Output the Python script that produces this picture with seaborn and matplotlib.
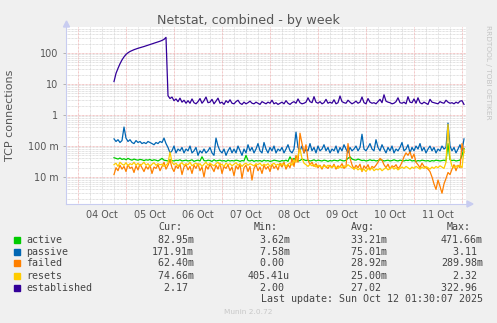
import numpy as np
import pandas as pd
import matplotlib
matplotlib.use("Agg")
import matplotlib.pyplot as plt
import matplotlib.dates as mdates
from matplotlib.patches import Rectangle
import seaborn as sns

# ---------------- data (hourly samples from 2025-10-04 18:00) ----------------
start_time = "2025-10-04 18:00"
series_names = ["active", "passive", "failed", "resets", "established"]
series_colors = ["#00CC00", "#0066B3", "#FF8000", "#FFCC00", "#330099"]

active = [
    0.042, 0.04, 0.038, 0.041, 0.037, 0.039, 0.036, 0.04, 0.037, 0.035, 0.038, 0.036,
    0.035, 0.037, 0.036, 0.034, 0.036, 0.035, 0.037, 0.034, 0.036, 0.035, 0.033, 0.036,
    0.04, 0.035, 0.034, 0.033, 0.036, 0.034, 0.033, 0.035, 0.034, 0.036, 0.033, 0.034,
    0.035, 0.033, 0.034, 0.036, 0.032, 0.034, 0.035, 0.033, 0.045, 0.034, 0.033, 0.035,
    0.034, 0.032, 0.036, 0.033, 0.034, 0.035, 0.033, 0.034, 0.032, 0.035, 0.033, 0.034,
    0.033, 0.035, 0.034, 0.032, 0.034, 0.033, 0.05, 0.034, 0.033, 0.035, 0.032, 0.034,
    0.033, 0.034, 0.032, 0.035, 0.033, 0.034, 0.032, 0.033, 0.035, 0.034, 0.033, 0.032,
    0.034, 0.033, 0.035, 0.032, 0.045, 0.034, 0.04, 0.035, 0.033, 0.034, 0.038, 0.036,
    0.034, 0.035, 0.033, 0.034, 0.036, 0.033, 0.035, 0.034, 0.033, 0.035, 0.034, 0.032,
    0.034, 0.033, 0.035, 0.034, 0.033, 0.036, 0.034, 0.033, 0.035, 0.04, 0.045, 0.038,
    0.036, 0.035, 0.038, 0.036, 0.034, 0.035, 0.033, 0.034, 0.036, 0.034, 0.035, 0.033,
    0.034, 0.036, 0.035, 0.033, 0.034, 0.035, 0.033, 0.034, 0.036, 0.034, 0.033, 0.035,
    0.034, 0.033, 0.035, 0.034, 0.036, 0.033, 0.034, 0.032, 0.034, 0.033, 0.035, 0.034,
    0.033, 0.034, 0.032, 0.034, 0.033, 0.035, 0.034, 0.033, 0.034, 0.035, 0.033, 0.12,
    0.036, 0.034, 0.035, 0.033, 0.034, 0.035, 0.05, 0.083,
]

passive = [
    0.17, 0.14, 0.16, 0.13, 0.15, 0.41, 0.18, 0.14, 0.16, 0.13, 0.12, 0.15,
    0.13, 0.14, 0.12, 0.13, 0.12, 0.14, 0.13, 0.12, 0.11, 0.13, 0.12, 0.14,
    0.13, 0.18, 0.12, 0.09, 0.06, 0.07, 0.1, 0.06, 0.08, 0.07, 0.09, 0.06,
    0.08, 0.07, 0.1, 0.06, 0.07, 0.09, 0.05, 0.07, 0.06, 0.08, 0.06, 0.07,
    0.09, 0.06, 0.05, 0.18, 0.1, 0.07, 0.06, 0.08, 0.05, 0.07, 0.09, 0.06,
    0.08, 0.06, 0.1, 0.07, 0.05, 0.08, 0.06, 0.11, 0.07, 0.09, 0.06, 0.08,
    0.12, 0.07, 0.06, 0.13, 0.08, 0.06, 0.09, 0.07, 0.1, 0.06, 0.08, 0.07,
    0.09, 0.06, 0.08, 0.11, 0.07, 0.06, 0.08, 0.28, 0.09, 0.07, 0.1, 0.06,
    0.08, 0.07, 0.12, 0.07, 0.09, 0.06, 0.1, 0.07, 0.08, 0.11, 0.07, 0.09,
    0.06, 0.08, 0.07, 0.1, 0.06, 0.09, 0.07, 0.11, 0.08, 0.06, 0.09, 0.07,
    0.08, 0.1, 0.07, 0.09, 0.24, 0.08, 0.07, 0.09, 0.12, 0.08, 0.07, 0.16,
    0.09, 0.07, 0.11, 0.08, 0.06, 0.09, 0.07, 0.1, 0.06, 0.08, 0.07, 0.09,
    0.13, 0.07, 0.08, 0.11, 0.06, 0.09, 0.07, 0.1, 0.08, 0.12, 0.07, 0.09,
    0.06, 0.08, 0.1, 0.07, 0.09, 0.06, 0.08, 0.07, 0.1, 0.08, 0.09, 0.55,
    0.1, 0.07, 0.09, 0.06, 0.08, 0.11, 0.07, 0.17,
]

failed = [
    0.012, 0.02, 0.016, 0.024, 0.018, 0.022, 0.015, 0.025, 0.019, 0.021, 0.014, 0.023,
    0.017, 0.026, 0.02, 0.015, 0.022, 0.018, 0.024, 0.013, 0.021, 0.019, 0.025, 0.016,
    0.022, 0.03, 0.018, 0.024, 0.035, 0.02, 0.015, 0.023, 0.019, 0.026, 0.012, 0.021,
    0.025, 0.017, 0.022, 0.013, 0.024, 0.019, 0.027, 0.016, 0.021, 0.01, 0.023, 0.018,
    0.026, 0.02, 0.015, 0.024, 0.018, 0.028, 0.013, 0.022, 0.019, 0.025, 0.016, 0.021,
    0.011, 0.023, 0.018, 0.026, 0.009, 0.02, 0.024, 0.015, 0.022, 0.008, 0.019, 0.025,
    0.016, 0.021, 0.013, 0.024, 0.018, 0.022, 0.015, 0.026, 0.019, 0.023, 0.017, 0.028,
    0.021, 0.03, 0.018, 0.025, 0.02, 0.04, 0.022, 0.05, 0.03, 0.26, 0.12, 0.06,
    0.11, 0.035, 0.025, 0.03, 0.022, 0.027, 0.02, 0.024, 0.018, 0.025, 0.021, 0.019,
    0.024, 0.02, 0.026, 0.018, 0.023, 0.021, 0.027, 0.019, 0.022, 0.12, 0.04, 0.025,
    0.018, 0.024, 0.02, 0.026, 0.015, 0.023, 0.019, 0.025, 0.017, 0.022, 0.02, 0.024,
    0.03, 0.04, 0.035, 0.025, 0.02, 0.026, 0.018, 0.023, 0.021, 0.025, 0.019, 0.022,
    0.03, 0.045, 0.06, 0.05, 0.065, 0.04, 0.055, 0.03, 0.025, 0.02, 0.028, 0.022,
    0.02, 0.018, 0.015, 0.01, 0.006, 0.004, 0.008, 0.005, 0.003, 0.006, 0.009, 0.014,
    0.012, 0.018, 0.025, 0.016, 0.024, 0.02, 0.12, 0.062,
]

resets = [
    0.025, 0.028, 0.022, 0.03, 0.026, 0.024, 0.029, 0.023, 0.027, 0.025, 0.03, 0.024,
    0.028, 0.023, 0.026, 0.03, 0.024, 0.027, 0.022, 0.026, 0.029, 0.024, 0.027, 0.025,
    0.026, 0.022, 0.024, 0.028, 0.064, 0.03, 0.025, 0.028, 0.023, 0.026, 0.029, 0.024,
    0.027, 0.025, 0.03, 0.023, 0.026, 0.028, 0.024, 0.027, 0.022, 0.026, 0.03, 0.024,
    0.028, 0.025, 0.023, 0.027, 0.03, 0.024, 0.026, 0.022, 0.028, 0.025, 0.027, 0.023,
    0.026, 0.029, 0.024, 0.027, 0.022, 0.026, 0.028, 0.024, 0.027, 0.025, 0.023, 0.027,
    0.025, 0.028, 0.023, 0.026, 0.024, 0.027, 0.022, 0.025, 0.028, 0.024, 0.026, 0.023,
    0.027, 0.025, 0.022, 0.026, 0.028, 0.024, 0.035, 0.03, 0.05, 0.08, 0.04, 0.028,
    0.025, 0.022, 0.026, 0.023, 0.025, 0.021, 0.024, 0.022, 0.02, 0.023, 0.021, 0.024,
    0.022, 0.02, 0.023, 0.021, 0.019, 0.022, 0.02, 0.023, 0.021, 0.025, 0.022, 0.02,
    0.018, 0.02, 0.017, 0.019, 0.016, 0.018, 0.015, 0.019, 0.017, 0.02, 0.016, 0.018,
    0.017, 0.019, 0.016, 0.018, 0.02, 0.017, 0.019, 0.021, 0.018, 0.02, 0.017, 0.019,
    0.021, 0.019, 0.022, 0.02, 0.018, 0.021, 0.019, 0.022, 0.02, 0.018, 0.021, 0.019,
    0.022, 0.02, 0.018, 0.021, 0.019, 0.022, 0.02, 0.023, 0.021, 0.019, 0.03, 0.5,
    0.04, 0.022, 0.02, 0.023, 0.021, 0.024, 0.02, 0.075,
]

established = [
    12, 22, 32, 45, 60, 75, 90, 102, 112, 120, 128, 135,
    142, 148, 155, 162, 170, 178, 186, 195, 205, 215, 228, 240,
    255, 275, 320, 4.2, 3.4, 3.8, 2.9, 3.3, 2.7, 3.5, 2.6, 3.0,
    2.4, 2.9, 2.4, 3.3, 2.5, 2.3, 2.7, 3.4, 2.4, 2.9, 3.8, 2.5,
    2.6, 3.2, 2.3, 2.8, 3.5, 2.4, 2.6, 2.2, 2.9, 2.5, 3.1, 2.4,
    2.3, 2.7, 3.0, 2.4, 2.2, 2.6, 2.3, 2.5, 2.8, 2.4, 2.3, 2.6,
    2.4, 2.2, 2.7, 2.5, 2.3, 2.6, 2.4, 3.0, 2.3, 2.5, 2.2, 2.4,
    2.6, 2.3, 2.9, 2.4, 2.2, 2.5, 2.7, 2.4, 3.3, 2.5, 2.3, 2.4,
    2.6, 3.6, 2.7, 2.5, 3.9, 2.6, 2.4, 2.7, 2.3, 2.5, 3.2, 2.4,
    2.6, 2.4, 3.1, 2.3, 2.5, 4.1, 2.7, 2.5, 2.4, 3.0, 2.6, 2.3,
    2.5, 2.8, 2.4, 2.6, 3.8, 2.5, 2.3, 3.4, 2.6, 2.4, 2.5, 2.3,
    2.7, 3.2, 2.5, 4.5, 2.8, 2.6, 2.5, 2.3, 2.4, 2.7, 3.6, 2.5,
    2.4, 2.6, 2.3, 3.9, 2.6, 2.5, 3.3, 2.4, 3.6, 2.5, 2.3, 2.6,
    2.4, 2.2, 3.2, 2.6, 2.5, 2.4, 2.3, 2.7, 2.5, 2.4, 3.0, 2.6,
    2.4, 2.5, 2.3, 2.6, 2.4, 2.8, 2.9, 2.2,
]

y_tick_values = [0.01, 0.1, 1, 10, 100]
y_tick_labels = ["10 m", "100 m", "1", "10", "100"]
x_start, x_end = "2025-10-03 18:00", "2025-10-12 02:00"
y_min, y_max = 0.00135, 690

cur_vals = ["82.95m", "171.91m", "62.40m", "74.66m", "2.17 "]
min_vals = ["3.62m", "7.58m", "0.00 ", "405.41u", "2.00 "]
avg_vals = ["33.21m", "75.01m", "28.92m", "25.00m", "27.02 "]
max_vals = ["471.66m", "3.11 ", "289.98m", "2.32 ", "322.96 "]

title = "Netstat, combined - by week"
ylabel = "TCP connections"
last_update = "Last update: Sun Oct 12 01:30:07 2025"
credit = "RRDTOOL / TOBI OETIKER"
version = "Munin 2.0.72"

# ---------------- build frame ----------------
times = pd.date_range(start_time, periods=len(active), freq="h")
frames = []
for name, vals in zip(series_names, [active, passive, failed, resets, established]):
    frames.append(pd.DataFrame({"time": times, "value": vals, "series": name}))
df = pd.concat(frames, ignore_index=True)

# ---------------- figure ----------------
W, H = 497, 323
fig = plt.figure(figsize=(W / 100, H / 100), dpi=100, facecolor="#F0F0F0")
ax = fig.add_axes([66 / W, 1 - 204 / H, 400 / W, 177 / H])
ax.set_facecolor("white")

TXT = "#555555"

# grid
xs = pd.Timestamp(x_start)
xe = pd.Timestamp(x_end)
dot = (0, (0.72, 0.72))
for t in pd.date_range(xs.ceil("6h"), xe, freq="6h"):
    if t.hour == 0:
        continue
    ax.axvline(t, color="#D6D6D6", lw=0.7, ls=dot, zorder=0)
for t in pd.date_range(xs.ceil("D"), xe, freq="D"):
    ax.axvline(t, color="#EEB2B2", lw=0.7, ls=dot, zorder=0.5)
for dec in [0.001, 0.01, 0.1, 1, 10, 100]:
    for m in range(2, 10):
        v = dec * m
        if y_min < v < y_max:
            ax.axhline(v, color="#D6D6D6", lw=0.7, ls=dot, zorder=0)
for v in y_tick_values:
    ax.axhline(v, color="#EEB2B2", lw=0.7, ls=dot, zorder=0.5)

sns.lineplot(data=df, x="time", y="value", hue="series", hue_order=series_names,
             palette=series_colors, legend=False, ax=ax, linewidth=0.9, zorder=3,
             estimator=None)

ax.set_yscale("log")
ax.set_ylim(y_min, y_max)
ax.set_xlim(xs, xe)
ax.yaxis.set_major_locator(matplotlib.ticker.FixedLocator(y_tick_values))
ax.yaxis.set_minor_locator(matplotlib.ticker.NullLocator())
ax.set_yticklabels(y_tick_labels)
ax.xaxis.set_major_locator(mdates.HourLocator(byhour=[12]))
ax.xaxis.set_major_formatter(mdates.DateFormatter("%d %b"))
ax.xaxis.set_minor_locator(matplotlib.ticker.NullLocator())
ax.tick_params(axis="x", length=0, pad=4.5, labelsize=6.9, labelcolor=TXT)
ax.tick_params(axis="y", length=2, width=0.6, color="#AAAAAA", pad=3.5,
               labelsize=6.9, labelcolor=TXT)
ax.set_xlabel("")
ax.set_ylabel("")
for s in ["top", "right"]:
    ax.spines[s].set_visible(False)
for s in ["left", "bottom"]:
    ax.spines[s].set_color("#C8CCF0")
    ax.spines[s].set_linewidth(0.8)

# axis arrows
fig.patches.append(matplotlib.patches.Polygon(
    [[63.5 / W, 1 - 27 / H], [69.5 / W, 1 - 27 / H], [66.5 / W, 1 - 21 / H]],
    closed=True, transform=fig.transFigure, color="#C8CCF0"))
fig.patches.append(matplotlib.patches.Polygon(
    [[467 / W, 1 - 201 / H], [467 / W, 1 - 207 / H], [473 / W, 1 - 204 / H]],
    closed=True, transform=fig.transFigure, color="#C8CCF0"))


def fx(x):
    return x / W


def fy(y):
    return 1 - y / H


fig.text(fx(248.5), fy(24), title, ha="center", va="baseline", fontsize=9.1,
         color=TXT, family="DejaVu Sans")
fig.text(fx(10.5), fy(115), ylabel, ha="center", va="center", rotation=90,
         fontsize=8, color=TXT, family="DejaVu Sans")
fig.text(fx(488), fy(25), credit, ha="center", va="top", rotation=270,
         fontsize=5.3, color="#C4C4C4", family="DejaVu Sans")

# legend table
MONO = "DejaVu Sans Mono"
LEG = "#444444"
FS = 7.2
col_x = [152, 248, 345, 441]
headers = ["Cur:", "Min:", "Avg:", "Max:"]
header_x = [158, 254, 351, 447]
for hx, h in zip(header_x, headers):
    fig.text(fx(hx), fy(227.3), h, ha="left", va="center", fontsize=FS,
             color=LEG, family=MONO)
row_y = [239.7, 251.7, 263.4, 275.6, 287.6]
for i, name in enumerate(series_names):
    y = row_y[i]
    fig.patches.append(Rectangle((fx(14), fy(y + 3)), 6 / W, 6 / H,
                                 transform=fig.transFigure,
                                 color=series_colors[i]))
    fig.text(fx(26), fy(y), name, ha="left", va="center", fontsize=FS,
             color=LEG, family=MONO)
    for cx, vals in zip(col_x, [cur_vals, min_vals, avg_vals, max_vals]):
        fig.text(fx(cx), fy(y), f"{vals[i]:>7}", ha="left", va="center",
                 fontsize=FS, color=LEG, family=MONO)
fig.text(fx(261), fy(299.4), last_update, ha="left", va="center", fontsize=FS,
         color=LEG, family=MONO)
fig.text(fx(248.5), fy(312.3), version, ha="center", va="center", fontsize=5.3,
         color="#C8C8C8", family="DejaVu Sans")

fig.savefig("out.png", dpi=100, facecolor=fig.get_facecolor())
